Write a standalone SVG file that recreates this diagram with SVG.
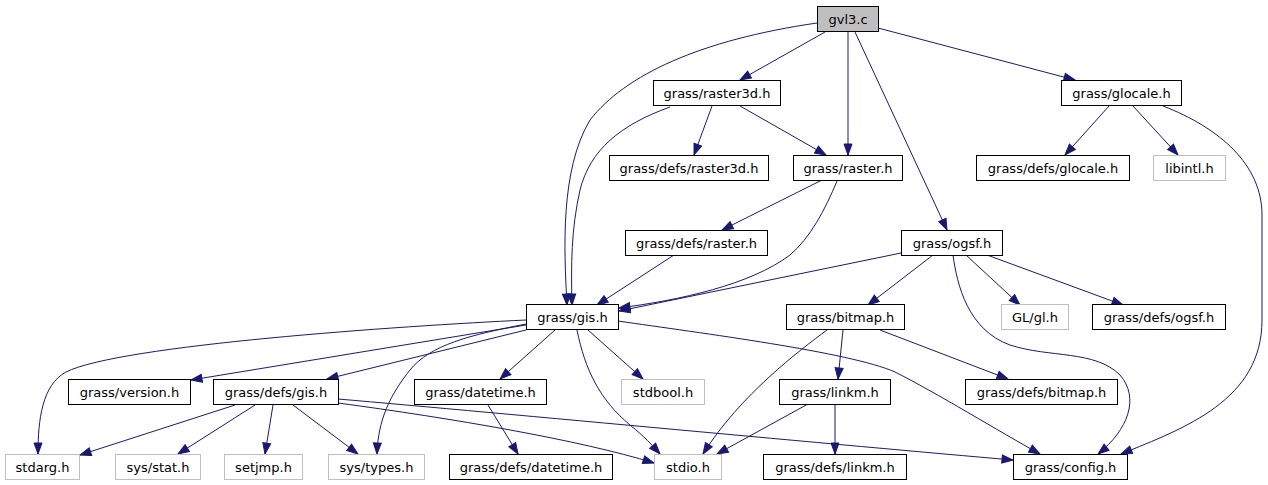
<svg xmlns="http://www.w3.org/2000/svg" width="1268" height="485" viewBox="0 0 1268 485">
<style>
.n rect{fill:#ffffff;stroke:#000000;stroke-width:1}
.g rect{fill:#ffffff;stroke:#bfbfbf;stroke-width:1}
.r rect{fill:#bfbfbf;stroke:#000000;stroke-width:1}
text{font-family:"DejaVu Sans","Liberation Sans",sans-serif;font-size:13px;fill:#000000;text-anchor:middle}
#edges path{fill:none;stroke:#191970;stroke-width:1;marker-end:url(#a)}
</style>
<defs>
<marker id="a" markerWidth="12" markerHeight="9" refX="11" refY="4" orient="auto" markerUnits="userSpaceOnUse" overflow="visible">
<path d="M0,0 L11,4 L0,8 z" fill="#191970" stroke="#191970" stroke-width="1"/>
</marker>
</defs>
<rect width="1268" height="485" fill="#ffffff"/>
<g id="edges">
<path d="M817,23 C700,40 625,75 590,120 C560,170 564,250 567,305"/>
<path d="M825,32 L740,80"/>
<path d="M848,32 L848,155"/>
<path d="M855,32 L947,230"/>
<path d="M878,28 L1075,80"/>
<path d="M670,107 C620,125 590,150 580,190 C571,230 571,265 572,305"/>
<path d="M712,106 L694,155"/>
<path d="M740,106 L826,155"/>
<path d="M1109,106 L1065,155"/>
<path d="M1133,106 L1178,155"/>
<path d="M1163,106 C1220,128 1262,165 1262,215 L1262,320 C1262,400 1185,428 1121,454"/>
<path d="M822,180 L722,230"/>
<path d="M837,181 C825,210 810,238 790,255 C750,285 680,300 619,308"/>
<path d="M674,255 L597,305"/>
<path d="M901,253 L619,311"/>
<path d="M933,255 L868,305"/>
<path d="M966,255 L1020,305"/>
<path d="M987,255 L1123,305"/>
<path d="M953,255 C957,285 968,330 1010,345 C1050,358 1095,350 1120,375 C1140,398 1128,430 1098,454"/>
<path d="M526,320 C400,326 120,345 66,372 C42,385 38,420 38,454"/>
<path d="M526,325 L191,380"/>
<path d="M526,330 L327,379"/>
<path d="M526,324 C470,335 430,345 410,370 C390,395 378,420 377,454"/>
<path d="M555,330 L500,379"/>
<path d="M588,330 L643,379"/>
<path d="M577,330 C585,370 600,400 630,425 C645,437 652,445 660,454"/>
<path d="M618,321 C700,333 850,352 895,372 C935,392 1000,432 1040,454"/>
<path d="M235,405 L80,455"/>
<path d="M255,405 L178,454"/>
<path d="M273,405 L265,454"/>
<path d="M293,405 L358,454"/>
<path d="M338,403 C450,418 580,440 654,463"/>
<path d="M338,399 C500,413 850,446 1013,460"/>
<path d="M488,405 L518,454"/>
<path d="M827,330 C800,350 740,395 703,454"/>
<path d="M843,330 L838,379"/>
<path d="M880,330 L1008,379"/>
<path d="M808,404 L717,454"/>
<path d="M835,404 L835,454"/>
</g>
<g id="n_gvl3c" class="r"><rect x="817.5" y="6.5" width="61" height="25"/><text x="848" y="23.5">gvl3.c</text></g>
<g id="n_raster3d" class="n"><rect x="653.5" y="80.5" width="127" height="25"/><text x="717" y="97.5">grass/raster3d.h</text></g>
<g id="n_glocale" class="n"><rect x="1061.5" y="80.5" width="120" height="25"/><text x="1121.5" y="97.5">grass/glocale.h</text></g>
<g id="n_defs_raster3d" class="n"><rect x="609.5" y="155.5" width="159" height="25"/><text x="689" y="172.5">grass/defs/raster3d.h</text></g>
<g id="n_raster" class="n"><rect x="793.5" y="155.5" width="109" height="25"/><text x="848" y="172.5">grass/raster.h</text></g>
<g id="n_defs_glocale" class="n"><rect x="976.5" y="155.5" width="153" height="25"/><text x="1053" y="172.5">grass/defs/glocale.h</text></g>
<g id="n_libintl" class="g"><rect x="1153.5" y="155.5" width="72" height="25"/><text x="1189.5" y="172.5">libintl.h</text></g>
<g id="n_defs_raster" class="n"><rect x="625.5" y="230.5" width="142" height="25"/><text x="696.5" y="247.5">grass/defs/raster.h</text></g>
<g id="n_ogsf" class="n"><rect x="901.5" y="230.5" width="101" height="25"/><text x="952" y="247.5">grass/ogsf.h</text></g>
<g id="n_gis" class="n"><rect x="526.5" y="304.5" width="92" height="25"/><text x="572.5" y="321.5">grass/gis.h</text></g>
<g id="n_bitmap" class="n"><rect x="786.5" y="304.5" width="118" height="25"/><text x="845.5" y="321.5">grass/bitmap.h</text></g>
<g id="n_glgl" class="g"><rect x="1001.5" y="304.5" width="67" height="25"/><text x="1035" y="321.5">GL/gl.h</text></g>
<g id="n_defs_ogsf" class="n"><rect x="1092.5" y="304.5" width="133" height="25"/><text x="1159" y="321.5">grass/defs/ogsf.h</text></g>
<g id="n_version" class="n"><rect x="68.5" y="379.5" width="122" height="25"/><text x="129.5" y="396.5">grass/version.h</text></g>
<g id="n_defs_gis" class="n"><rect x="213.5" y="379.5" width="125" height="25"/><text x="276" y="396.5">grass/defs/gis.h</text></g>
<g id="n_datetime" class="n"><rect x="414.5" y="379.5" width="132" height="25"/><text x="480.5" y="396.5">grass/datetime.h</text></g>
<g id="n_stdbool" class="g"><rect x="621.5" y="379.5" width="83" height="25"/><text x="663" y="396.5">stdbool.h</text></g>
<g id="n_linkm" class="n"><rect x="779.5" y="379.5" width="111" height="25"/><text x="835" y="396.5">grass/linkm.h</text></g>
<g id="n_defs_bitmap" class="n"><rect x="965.5" y="379.5" width="152" height="25"/><text x="1041.5" y="396.5">grass/defs/bitmap.h</text></g>
<g id="n_stdarg" class="g"><rect x="5.5" y="454.5" width="74" height="25"/><text x="42.5" y="471.5">stdarg.h</text></g>
<g id="n_sysstat" class="g"><rect x="115.5" y="454.5" width="85" height="25"/><text x="158" y="471.5">sys/stat.h</text></g>
<g id="n_setjmp" class="g"><rect x="224.5" y="454.5" width="78" height="25"/><text x="263.5" y="471.5">setjmp.h</text></g>
<g id="n_systypes" class="g"><rect x="328.5" y="454.5" width="96" height="25"/><text x="376.5" y="471.5">sys/types.h</text></g>
<g id="n_defs_datetime" class="n"><rect x="449.5" y="454.5" width="163" height="25"/><text x="531" y="471.5">grass/defs/datetime.h</text></g>
<g id="n_stdio" class="g"><rect x="654.5" y="454.5" width="67" height="25"/><text x="688" y="471.5">stdio.h</text></g>
<g id="n_defs_linkm" class="n"><rect x="763.5" y="454.5" width="143" height="25"/><text x="835" y="471.5">grass/defs/linkm.h</text></g>
<g id="n_config" class="n"><rect x="1013.5" y="454.5" width="114" height="25"/><text x="1070.5" y="471.5">grass/config.h</text></g>
</svg>
